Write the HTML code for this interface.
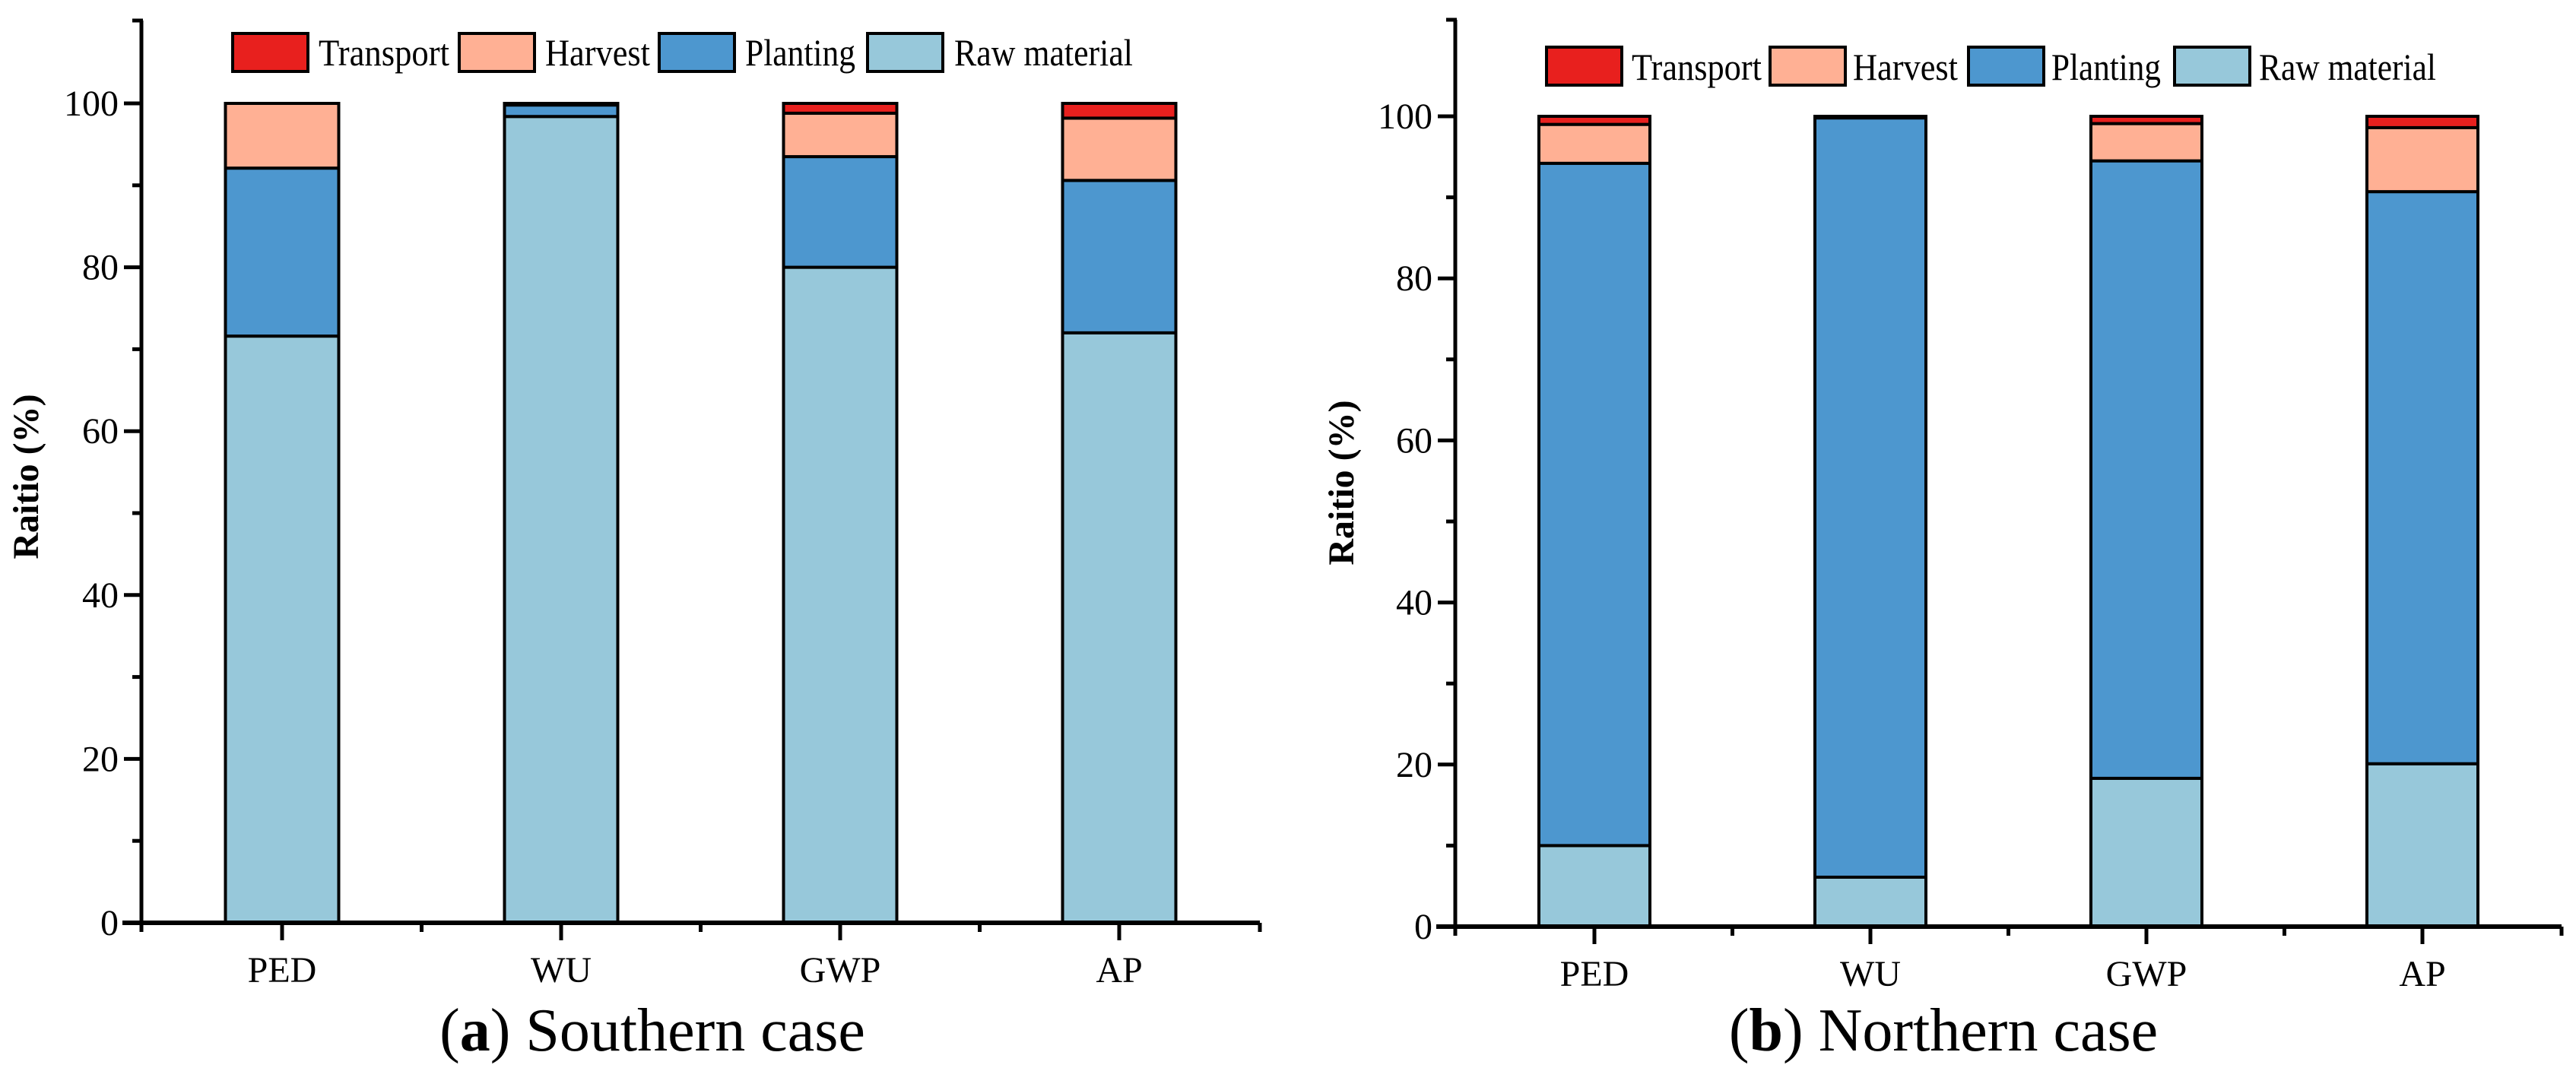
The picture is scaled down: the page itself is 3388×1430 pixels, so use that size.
<!DOCTYPE html>
<html><head><meta charset="utf-8">
<style>
html,body{margin:0;padding:0;background:#fff;}
svg{display:block;}
text{font-family:"Liberation Serif","Times New Roman",serif;}
</style></head>
<body>
<svg id="c" width="3388" height="1430" viewBox="0 0 3388 1430" xmlns="http://www.w3.org/2000/svg" font-family="Liberation Serif, serif"></svg>
<script>
const categories = ["PED","WU","GWP","AP"];
const seriesNames = ["Raw material","Planting","Harvest","Transport"];
const colors = ["#97C8DA","#4D97CF","#FFB094","#E8201E"];
// Southern case (a): segment values (%)
const southRaw = [71.6, 98.4, 80.0, 72.0];
const southPlanting = [20.5, 1.4, 13.5, 18.6];
const southHarvest = [7.9, 0.0, 5.3, 7.6];
const southTransport = [0.0, 0.2, 1.2, 1.8];
// Northern case (b)
const northRaw = [10.0, 6.1, 18.3, 20.1];
const northPlanting = [84.2, 93.7, 76.2, 70.6];
const northHarvest = [4.8, 0.0, 4.6, 7.9];
const northTransport = [1.0, 0.2, 0.9, 1.4];
const yTicks = [0,20,40,60,80,100];
const yMinor = [10,30,50,70,90];

const svg = document.getElementById('c');
const NS = "http://www.w3.org/2000/svg";
const FF = "Liberation Serif, serif";
function el(tag, attrs, parent){const e=document.createElementNS(NS,tag);for(const k in attrs)e.setAttribute(k,attrs[k]);if(tag==='text')e.setAttribute('font-family',FF);(parent||svg).appendChild(e);return e;}

function panel(cfg){
  const g = el('g',{});
  
  
  const y = v => cfg.y0 - (v/100)*(cfg.y0-cfg.y100);
  const cx = i => cfg.x0 + cfg.half + i*cfg.step;
  const xEnd = cfg.x0 + 2*cfg.half + 3*cfg.step;
  const segs = [cfg.raw, cfg.plant, cfg.harv, cfg.trans];
  categories.forEach((c,i)=>{
    let base = 0;
    segs.forEach((arr,s)=>{
      const v = arr[i];
      if (v <= 0) return;
      const r = el('rect',{x:cx(i)-cfg.bw/2, y:y(base+v), width:cfg.bw, height:y(base)-y(base+v), fill:colors[s], stroke:'#000','stroke-width':4}, g);
      
      
      base += v;
    });
  });
  const ya = el('line',{x1:cfg.x0,y1:cfg.yTop,x2:cfg.x0,y2:cfg.y0+2,stroke:'#000','stroke-width':5},g);
   
  el('line',{x1:cfg.x0-12,y1:cfg.yTop,x2:cfg.x0+2,y2:cfg.yTop,stroke:'#000','stroke-width':5},g);
  yTicks.forEach(t=>{
    el('line',{x1:cfg.x0-23,y1:y(t),x2:cfg.x0,y2:y(t),stroke:'#000','stroke-width':5},g);
    const tx = el('text',{x:cfg.x0-30,y:y(t)+16,'text-anchor':'end','font-size':48},g);
    tx.textContent = t;
     
  });
  yMinor.forEach(t=>{
    el('line',{x1:cfg.x0-12,y1:y(t),x2:cfg.x0,y2:y(t),stroke:'#000','stroke-width':5},g);
  });
  const xa = el('line',{x1:cfg.x0-25,y1:cfg.y0,x2:xEnd,y2:cfg.y0,stroke:'#000','stroke-width':6},g);
   
  for(let k=0;k<=4;k++){
    const bx = k===0 ? cfg.x0 : (k===4 ? xEnd : cfg.x0 + cfg.half + (k-1)*cfg.step + cfg.step/2);
    el('line',{x1:bx,y1:cfg.y0,x2:bx,y2:cfg.y0+12,stroke:'#000','stroke-width':5},g);
  }
  categories.forEach((c,i)=>{
    el('line',{x1:cx(i),y1:cfg.y0,x2:cx(i),y2:cfg.y0+23,stroke:'#000','stroke-width':5},g);
    const t = el('text',{x:cx(i),y:cfg.y0+78,'text-anchor':'middle','font-size':48},g);
    t.textContent = c;
     
  });
  const yt = el('text',{x:0,y:0,'text-anchor':'middle','font-size':48,'font-weight':'bold',transform:`translate(${cfg.ytx},${cfg.yty}) rotate(-90)`},g);
  yt.textContent = 'Raitio (%)';
   
  const order = [3,2,1,0];
  order.forEach((s,j)=>{
    const lx = cfg.legBox[j], lt = cfg.legText[j];
    const r = el('rect',{x:lx,y:cfg.legY,width:99,height:cfg.legH,fill:colors[s],stroke:'#000','stroke-width':4},g);
     
    const t = el('text',{x:lt,y:cfg.legBase,'font-size':50,textLength:cfg.legW[j],lengthAdjust:'spacingAndGlyphs'},g);
    t.textContent = seriesNames[s];
     
  });
  const cap = el('text',{x:cfg.capX,y:1382,'text-anchor':'middle','font-size':80},g);
   
  const b = el('tspan',{},cap); b.textContent='(';
  const bb = el('tspan',{'font-weight':'bold'},cap); bb.textContent=cfg.letter;
  const rest = el('tspan',{},cap); rest.textContent=') '+cfg.caption;
}

panel({name:'panel-southern', x0:186, y0:1214, y100:136, yTop:27, half:185, step:367, bw:149,
  raw:southRaw, plant:southPlanting, harv:southHarvest, trans:southTransport,
  ytx:50, yty:627, legY:44, legH:50, legBase:86,
  legBox:[306,604,867,1141], legText:[419,717,980,1255], legW:[172,138,145,235],
  capX:858, letter:'a', caption:'Southern case'});
panel({name:'panel-northern', x0:1914, y0:1219, y100:153, yTop:26, half:183, step:363, bw:146,
  raw:northRaw, plant:northPlanting, harv:northHarvest, trans:northTransport,
  ytx:1780, yty:635, legY:62, legH:50, legBase:105,
  legBox:[2034,2328,2589,2860], legText:[2146,2437,2698,2971], legW:[171,138,144,233],
  capX:2556, letter:'b', caption:'Northern case'});
</script>
</body></html>
